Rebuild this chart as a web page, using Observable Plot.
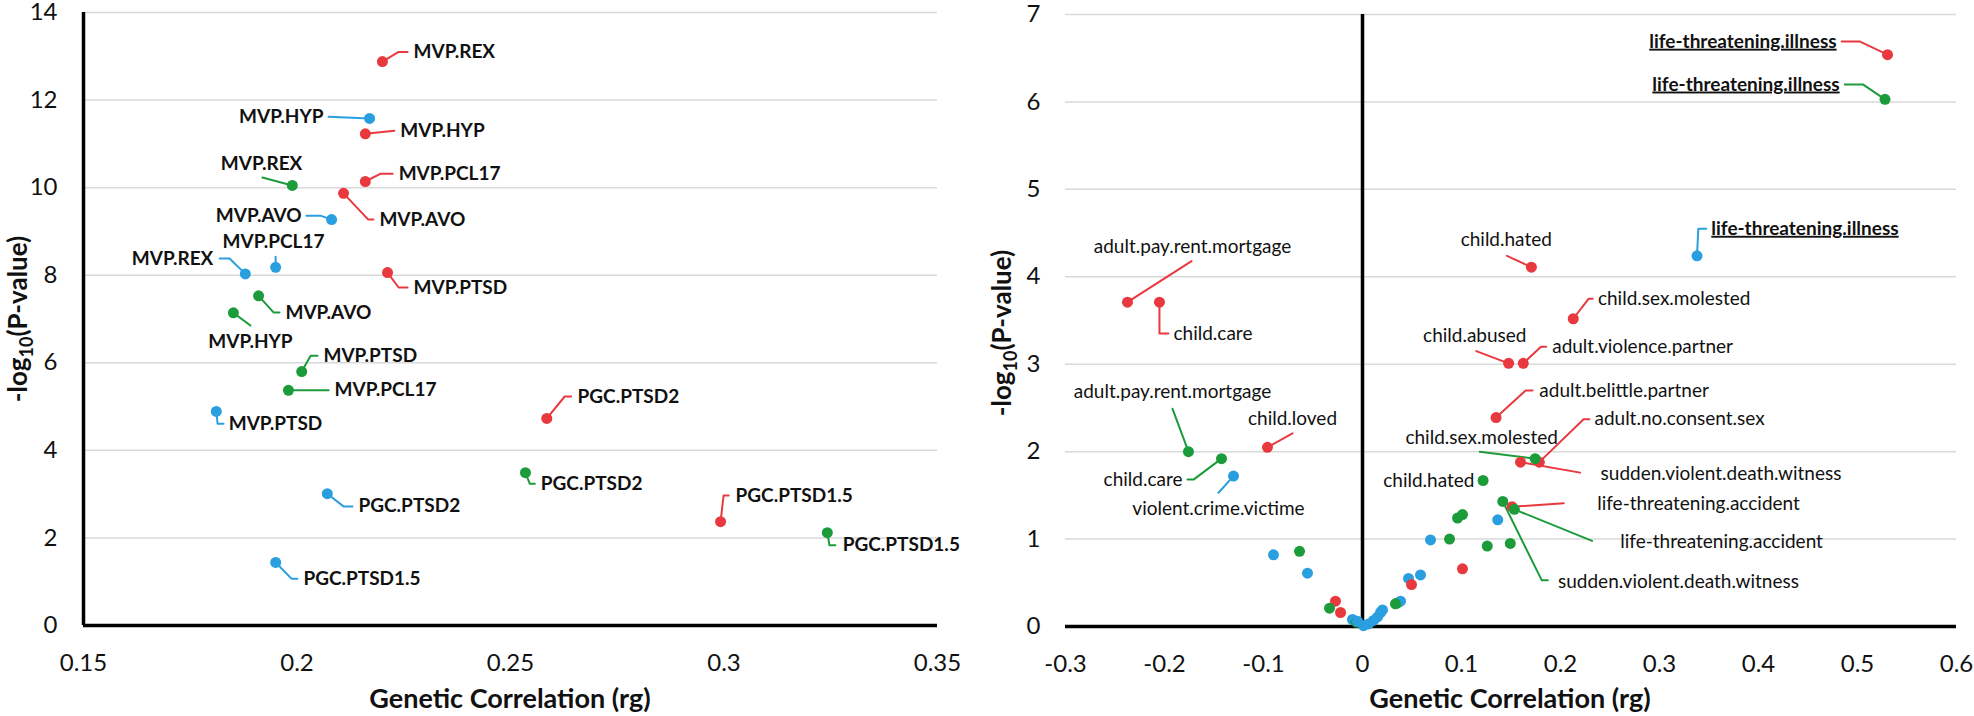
<!DOCTYPE html>
<html><head><meta charset="utf-8">
<script src="https://cdn.jsdelivr.net/npm/d3@7"></script>
<script src="https://cdn.jsdelivr.net/npm/@observablehq/plot@0.6"></script>
<style>
body{margin:0;background:#fff;}
#wrap{position:relative;width:1974px;height:716px;font-family:Lato,sans-serif;}
#left,#right{position:absolute;top:0;}
#left{left:0;} #right{left:960px;}
</style></head><body><div id="wrap"><div id="left"></div><div id="right"></div></div>
<script>
// ---------- DATA: left panel ----------
const leftNames = ["MVP.REX","MVP.HYP","MVP.HYP","MVP.REX","MVP.PCL17","MVP.AVO","MVP.AVO","MVP.PCL17","MVP.REX","MVP.PTSD","MVP.AVO","MVP.HYP","MVP.PTSD","MVP.PCL17","MVP.PTSD","PGC.PTSD2","PGC.PTSD1.5","PGC.PTSD2","PGC.PTSD2","PGC.PTSD1.5","PGC.PTSD1.5"];
const leftGroup = ["red","blue","red","green","red","red","blue","blue","blue","red","green","green","green","green","blue","blue","blue","red","green","red","green"];
const leftRg   = [0.2200,0.2170,0.2160,0.1989,0.2160,0.2109,0.2081,0.1950,0.1879,0.2212,0.1910,0.1851,0.2011,0.1980,0.1811,0.2071,0.1950,0.2585,0.2535,0.2992,0.3242];
const leftLogP = [12.88,11.58,11.23,10.05,10.14,9.87,9.27,8.18,8.03,8.06,7.53,7.14,5.80,5.37,4.89,3.01,1.44,4.73,3.49,2.37,2.12];

// ---------- DATA: right panel ----------
const rightNames = ["adult.pay.rent.mortgage","child.care","adult.pay.rent.mortgage","child.care","violent.crime.victime","child.loved","life-threatening.illness","life-threatening.illness","life-threatening.illness","child.hated","child.sex.molested","child.abused","adult.violence.partner","adult.belittle.partner","adult.no.consent.sex","sudden.violent.death.witness","child.sex.molested","child.hated","life-threatening.accident","life-threatening.accident","sudden.violent.death.witness",
  "","","","","","","","","","","","","","","","","","","","","","","","","","","","",""];
const rightGroup = ["red","red","green","green","blue","red","red","green","blue","red","red","red","red","red","red","red","green","green","red","green","green",
  "blue","green","blue","red","green","red","blue","green","blue","blue","blue","blue","blue","blue","green","blue","blue","red","blue","blue","green","green","green","red","blue","green","green","blue","green"];
const rightRg = [-0.2374,-0.2051,-0.1758,-0.1424,-0.1303,-0.0960,0.5303,0.5278,0.3379,0.1706,0.2129,0.1476,0.1624,0.1349,0.1786,0.1596,0.1744,0.1218,0.1510,0.1534,0.1417,
  -0.0899,-0.0636,-0.0556,-0.0273,-0.0333,-0.0222,-0.0101,-0.0061,0.0010,0.0061,0.0111,0.0152,0.0182,0.0202,0.0354,0.0384,0.0465,0.0495,0.0586,0.0687,0.0879,0.0960,0.1010,0.1010,0.1366,0.1260,0.1493,-0.0051,0.0333];
const rightLogP = [3.71,3.71,2.00,1.92,1.72,2.05,6.54,6.03,4.24,4.11,3.52,3.01,3.01,2.39,1.88,1.88,1.92,1.67,1.37,1.34,1.43,
  0.82,0.86,0.61,0.29,0.21,0.16,0.08,0.05,0.01,0.03,0.07,0.11,0.16,0.19,0.27,0.29,0.55,0.48,0.59,0.99,1.00,1.24,1.28,0.66,1.22,0.92,0.95,0.06,0.26];

// ---------- tick values ----------
const leftXTicks = [0.15,0.2,0.25,0.3,0.35];
const leftYTicks = [0,2,4,6,8,10,12,14];
const rightXTicks = [-0.3,-0.2,-0.1,0,0.1,0.2,0.3,0.4,0.5,0.6];
const rightYTicks = [0,1,2,3,4,5,6,7];

const xTitle = "Genetic Correlation (rg)";

// ---------- annotation layout (label anchor & leader bends, in data units) ----------
const leftLayout = [
  {pts:[[0.2238,13.10],[0.2259,13.10]], at:[0.2273,13.10], anchor:"start"},
  {pts:[[0.2074,11.62]], at:[0.2062,11.62], anchor:"end"},
  {pts:[[0.2228,11.30]], at:[0.2242,11.30], anchor:"start"},
  {pts:[[0.1919,10.23]], at:[0.1917,10.55], anchor:"middle"},
  {pts:[[0.2196,10.32],[0.2224,10.32]], at:[0.2238,10.32], anchor:"start"},
  {pts:[[0.2167,9.27],[0.2179,9.27]], at:[0.2193,9.27], anchor:"start"},
  {pts:[[0.2055,9.36],[0.2022,9.36]], at:[0.2011,9.36], anchor:"end"},
  {pts:[[0.1950,8.42]], at:[0.1945,8.77], anchor:"middle"},
  {pts:[[0.1842,8.38],[0.1819,8.38]], at:[0.1804,8.38], anchor:"end"},
  {pts:[[0.2238,7.72],[0.2259,7.72]], at:[0.2273,7.72], anchor:"start"},
  {pts:[[0.1945,7.15],[0.1959,7.15]], at:[0.1973,7.15], anchor:"start"},
  {pts:[[0.1891,6.85]], at:[0.1891,6.48], anchor:"middle"},
  {pts:[[0.2032,6.16],[0.2048,6.16]], at:[0.2062,6.16], anchor:"start"},
  {pts:[[0.2074,5.37]], at:[0.2088,5.37], anchor:"start"},
  {pts:[[0.1814,4.61],[0.1828,4.61]], at:[0.1840,4.61], anchor:"start"},
  {pts:[[0.2109,2.72],[0.2130,2.72]], at:[0.2144,2.72], anchor:"start"},
  {pts:[[0.1987,1.07],[0.2001,1.07]], at:[0.2015,1.07], anchor:"start"},
  {pts:[[0.2627,5.23],[0.2642,5.23]], at:[0.2657,5.23], anchor:"start"},
  {pts:[[0.2545,3.24],[0.2557,3.24]], at:[0.2571,3.24], anchor:"start"},
  {pts:[[0.2999,2.97],[0.3011,2.97]], at:[0.3027,2.97], anchor:"start"},
  {pts:[[0.3247,1.83],[0.3261,1.83]], at:[0.3278,1.83], anchor:"start"}
];
const rightLayout = [
  {pts:[[-0.1727,4.18]], at:[-0.1717,4.34], anchor:"middle"},
  {pts:[[-0.2051,3.35],[-0.1960,3.35]], at:[-0.1909,3.35], anchor:"start"},
  {pts:[[-0.1919,2.49]], at:[-0.1919,2.68], anchor:"middle"},
  {pts:[[-0.1707,1.68],[-0.1768,1.68]], at:[-0.1818,1.68], anchor:"end"},
  {pts:[[-0.1455,1.53]], at:[-0.1455,1.35], anchor:"middle"},
  {pts:[[-0.0707,2.21]], at:[-0.0707,2.38], anchor:"middle"},
  {pts:[[0.5026,6.69],[0.4840,6.69]], at:[0.4789,6.69], anchor:"end", bold:true},
  {pts:[[0.5054,6.20],[0.4872,6.20]], at:[0.4820,6.20], anchor:"end", bold:true},
  {pts:[[0.3392,4.55],[0.3472,4.55]], at:[0.3523,4.55], anchor:"start", bold:true},
  {pts:[[0.1459,4.24]], at:[0.1452,4.42], anchor:"middle"},
  {pts:[[0.2285,3.75],[0.2325,3.75]], at:[0.2378,3.75], anchor:"start"},
  {pts:[[0.1149,3.15]], at:[0.1134,3.32], anchor:"middle"},
  {pts:[[0.1803,3.20],[0.1855,3.20]], at:[0.1916,3.20], anchor:"start"},
  {pts:[[0.1648,2.70],[0.1717,2.70]], at:[0.1786,2.70], anchor:"start"},
  {pts:[[0.2233,2.37],[0.2291,2.37]], at:[0.2343,2.37], anchor:"start"},
  {pts:[[0.2198,1.76]], at:[0.2405,1.75], anchor:"start"},
  {pts:[[0.1184,2.00]], at:[0.1204,2.16], anchor:"middle"},
  {pts:[], at:[0.1131,1.67], anchor:"end"},
  {pts:[[0.2033,1.41]], at:[0.2371,1.40], anchor:"start"},
  {pts:[[0.2319,0.98]], at:[0.2604,0.97], anchor:"start"},
  {pts:[[0.1810,0.53],[0.1872,0.53]], at:[0.1975,0.51], anchor:"start"}
];

const colors = {red:"#e8393f", green:"#1c9b3b", blue:"#2a9fe0"};
const FONT = "Lato, 'Open Sans', sans-serif";

function build(names, groups, xs, ys, layout) {
  const pts = names.map((n,i)=>({name:n, color:colors[groups[i]], x:xs[i], y:ys[i]}));
  const leaders = [], labels = [];
  layout.forEach((L,i)=>{
    const p = pts[i];
    if (L.pts.length) {
      leaders.push({id:i, x:p.x, y:p.y, color:p.color});
      L.pts.forEach(q=>leaders.push({id:i, x:q[0], y:q[1], color:p.color}));
    }
    labels.push({text:p.name, x:L.at[0], y:L.at[1], anchor:L.anchor, bold:!!L.bold});
  });
  return {pts, leaders, labels};
}

function textMarks(labels, size, weightDefault) {
  const marks = [];
  for (const anchor of ["start","middle","end"]) {
    for (const bold of [false,true]) {
      const sub = labels.filter(d=>d.anchor===anchor && d.bold===bold);
      if (!sub.length) continue;
      marks.push(Plot.text(sub, {x:"x", y:"y", text:"text", textAnchor:anchor, fontSize:size,
        fontWeight: (bold || weightDefault==="bold") ? "bold" : "normal", fill:"#111", fontFamily:FONT}));
    }
  }
  return marks;
}

// ---------- LEFT ----------
const L = build(leftNames, leftGroup, leftRg, leftLogP, leftLayout);
const leftPlot = Plot.plot({
  width:960, height:716, marginLeft:83, marginRight:23, marginTop:12, marginBottom:91,
  style:{fontFamily:FONT, fontSize:"24px", background:"white", color:"#111", overflow:"visible"},
  x:{domain:[0.15,0.35], axis:null}, y:{domain:[0,14], axis:null},
  color:{type:"identity"},
  marks:[
    Plot.gridY(leftYTicks.filter(t=>t>0), {stroke:"#d9d9d9", strokeOpacity:1, strokeWidth:1.5}),
    Plot.ruleY([0], {stroke:"#000", strokeWidth:3.5}),
    Plot.ruleX([0.15], {stroke:"#000", strokeWidth:3.5}),
    Plot.axisX(leftXTicks, {tickSize:0, tickPadding:28, fontSize:24, fontFamily:FONT, label:null, tickFormat:d=>String(+d.toFixed(2))}),
    Plot.axisY(leftYTicks, {tickSize:0, tickPadding:26, fontSize:24, fontFamily:FONT, label:null, tickFormat:d=>String(d)}),
    Plot.line(L.leaders, {x:"x", y:"y", z:"id", stroke:"color", strokeWidth:2}),
    Plot.dot(L.pts, {x:"x", y:"y", fill:"color", r:5.5}),
    ...textMarks(L.labels, 19, "bold")
  ]
});
document.getElementById("left").appendChild(leftPlot);

// ---------- RIGHT ----------
const R = build(rightNames, rightGroup, rightRg, rightLogP, rightLayout);
const rightPlot = Plot.plot({
  width:1014, height:716, marginLeft:105, marginRight:18, marginTop:14, marginBottom:90,
  style:{fontFamily:FONT, fontSize:"24px", background:"white", color:"#111", overflow:"visible"},
  x:{domain:[-0.3,0.6], axis:null}, y:{domain:[0,7], axis:null},
  color:{type:"identity"},
  marks:[
    Plot.gridY(rightYTicks.filter(t=>t>0), {stroke:"#d9d9d9", strokeOpacity:1, strokeWidth:1.5}),
    Plot.ruleY([0], {stroke:"#000", strokeWidth:3.5}),
    Plot.ruleX([0], {stroke:"#000", strokeWidth:3.5}),
    Plot.axisX(rightXTicks, {tickSize:0, tickPadding:28, fontSize:24, fontFamily:FONT, label:null, tickFormat:d=>String(+d.toFixed(1))}),
    Plot.axisY(rightYTicks, {tickSize:0, tickPadding:25, fontSize:24, fontFamily:FONT, label:null, tickFormat:d=>String(d)}),
    Plot.line(R.leaders, {x:"x", y:"y", z:"id", stroke:"color", strokeWidth:2}),
    Plot.dot(R.pts, {x:"x", y:"y", fill:"color", r:5.5}),
    ...textMarks(R.labels, 19, "normal")
  ]
});
document.getElementById("right").appendChild(rightPlot);

d3.select(rightPlot).selectAll("text").filter(function(){return this.textContent==="life-threatening.illness";})
  .attr("text-decoration","underline");

// ---------- axis titles ----------
function titles(svgNode, xCenter, yTitleX, yTitleY) {
  const svg = d3.select(svgNode);
  svg.append("text").attr("x", xCenter).attr("y", 708).attr("text-anchor","middle")
    .attr("font-family", FONT).attr("font-size", 27).attr("font-weight","bold").attr("fill","#111").text(xTitle);
  const t = svg.append("text").attr("transform", `translate(${yTitleX},${yTitleY}) rotate(-90)`)
    .attr("text-anchor","middle").attr("font-family", FONT).attr("font-size", 26).attr("font-weight","bold").attr("fill","#111");
  t.append("tspan").text("-log");
  t.append("tspan").attr("font-size", 18).attr("dy", 6).text("10");
  t.append("tspan").attr("dy", -6).text("(P-value)");
}
titles(leftPlot, 510, 27, 319);
titles(rightPlot, 550, 51, 333);
</script></body></html>
